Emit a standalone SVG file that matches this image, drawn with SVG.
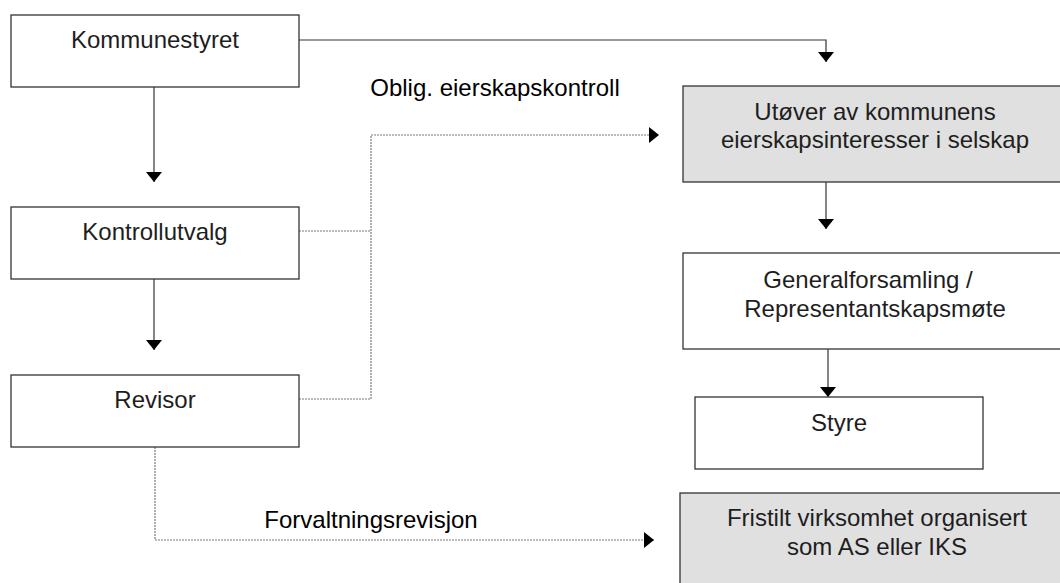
<svg xmlns="http://www.w3.org/2000/svg" width="1060" height="583" viewBox="0 0 1060 583">
<style>
.box{fill:#ffffff;stroke:#333333;stroke-width:1.3}
.grey{fill:#e0e0e0;stroke:#333333;stroke-width:1.3}
.t{font-family:"Liberation Sans",Arial,sans-serif;font-size:24px;fill:#1e1e1e;text-anchor:middle}
.lbl{font-family:"Liberation Sans",Arial,sans-serif;font-size:24px;fill:#000000;text-anchor:middle}
.solid{fill:none;stroke:#333333;stroke-width:1.2}
.dot{fill:none;stroke:#7a7a7a;stroke-width:1.2;stroke-dasharray:2 1}
</style>
<defs>
<marker id="ah" viewBox="0 0 10 16" markerWidth="10" markerHeight="16" refX="10" refY="8" orient="auto" markerUnits="userSpaceOnUse">
<path d="M0,0 L10,8 L0,16 z" fill="#000000"/>
</marker>
</defs>
<rect width="1060" height="583" fill="#ffffff"/>
<g id="connectors">
<path class="solid" d="M299,40 H826 V62" marker-end="url(#ah)"/>
<path class="solid" d="M154,87 V182" marker-end="url(#ah)"/>
<path class="solid" d="M154,279 V350" marker-end="url(#ah)"/>
<path class="solid" d="M826,182 V229" marker-end="url(#ah)"/>
<path class="solid" d="M828,349 V397" marker-end="url(#ah)"/>
<path class="dot" d="M299,231 H371"/>
<path class="dot" d="M299,399 H371 V135 H659" marker-end="url(#ah)"/>
<path class="dot" d="M155,447 V540 H654" marker-end="url(#ah)"/>
<text class="lbl" x="495" y="96">Oblig. eierskapskontroll</text>
<text class="lbl" x="371" y="528">Forvaltningsrevisjon</text>
</g>
<g id="kommunestyret">
<rect class="box" x="11" y="15" width="288" height="72"/>
<text class="t" x="155" y="48">Kommunestyret</text>
</g>
<g id="kontrollutvalg">
<rect class="box" x="11" y="207" width="288" height="72"/>
<text class="t" x="155" y="240">Kontrollutvalg</text>
</g>
<g id="revisor">
<rect class="box" x="11" y="375" width="288" height="72"/>
<text class="t" x="155" y="408">Revisor</text>
</g>
<g id="utover">
<rect class="grey" x="683" y="86" width="390" height="96"/>
<text class="t" x="875" y="120">Utøver av kommunens</text>
<text class="t" x="875" y="148">eierskapsinteresser i selskap</text>
</g>
<g id="generalforsamling">
<rect class="box" x="683" y="253" width="390" height="96"/>
<text class="t" x="868" y="288">Generalforsamling /</text>
<text class="t" x="875" y="317">Representantskapsmøte</text>
</g>
<g id="styre">
<rect class="box" x="695" y="397" width="288" height="72"/>
<text class="t" x="839" y="431">Styre</text>
</g>
<g id="fristilt">
<rect class="grey" x="680" y="493" width="394" height="100"/>
<text class="t" x="877" y="526">Fristilt virksomhet organisert</text>
<text class="t" x="877" y="555">som AS eller IKS</text>
</g>
</svg>
